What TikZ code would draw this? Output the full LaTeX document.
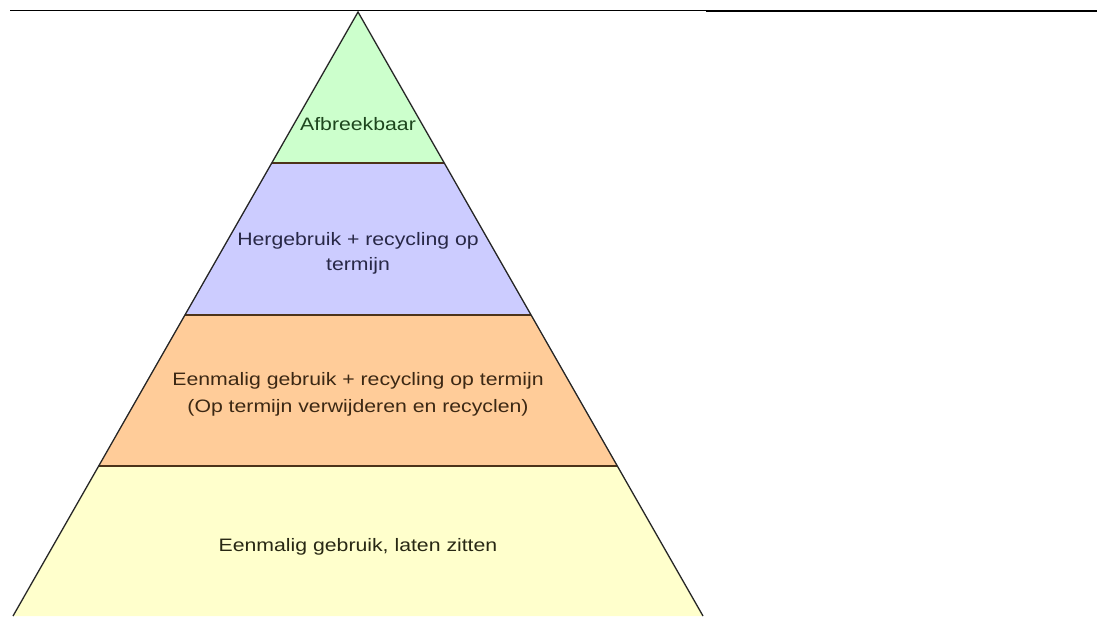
\documentclass[tikz,border=0pt]{standalone}
\usepackage{fontspec}
\setmainfont{Liberation Sans}[FakeStretch=1.18]
\definecolor{lgreen}{RGB}{204,255,204}
\definecolor{llav}{RGB}{204,204,255}
\definecolor{lorange}{RGB}{255,204,153}
\definecolor{lyellow}{RGB}{255,255,204}
\definecolor{tgreen}{RGB}{30,70,30}
\definecolor{tlav}{RGB}{40,40,70}
\definecolor{torange}{RGB}{60,40,20}
\definecolor{tyellow}{RGB}{40,40,20}
\tikzset{
  layer/.style={draw=none},
  divider/.style={draw=black!60!brown, line width=1.6pt},
  edge/.style={draw=black!85, line width=1.3pt, line join=miter},
  lbl/.style={anchor=base, inner sep=0pt, font=\fontsize{18}{26}\selectfont}
}
\begin{document}
\begin{tikzpicture}[x=1pt,y=-1pt]
\useasboundingbox[fill=white] (0,0) rectangle (1097,616);
% rules at top
\draw[black, line width=1pt] (10,10.5) -- (706,10.5);
\draw[black, line width=2.3pt] (706,10.8) -- (1097,10.8);
% layers
\fill[lgreen] (358,12) -- (444.25,163) -- (271.75,163) -- cycle;
\fill[llav] (271.75,163) -- (444.25,163) -- (531.1,315) -- (184.9,315) -- cycle;
\fill[lorange] (184.9,315) -- (531.1,315) -- (617.3,466) -- (98.7,466) -- cycle;
\fill[lyellow] (98.7,466) -- (617.3,466) -- (703,616) -- (13,616) -- cycle;
% dividers
\draw[divider] (271.75,163) -- (444.25,163);
\draw[divider] (184.9,315) -- (531.1,315);
\draw[divider] (98.7,466) -- (617.3,466);
% outline
\coordinate (apex) at (358,12);
\coordinate (bl) at (13,616);
\coordinate (br) at (703,616);
\draw[edge] (bl) -- (apex) -- (br);
% labels
\node[lbl, text=tgreen] (t1) at (358,130) {Afbreekbaar};
\node[lbl, text=tlav] (t2a) at (358,245) {Hergebruik + recycling op};
\node[lbl, text=tlav] (t2b) at (358,270) {termijn};
\node[lbl, text=torange] (t3a) at (358,385) {Eenmalig gebruik + recycling op termijn};
\node[lbl, text=torange] (t3b) at (358,412) {(Op termijn verwijderen en recyclen)};
\node[lbl, text=tyellow] (t4) at (358,551) {Eenmalig gebruik, laten zitten};
\end{tikzpicture}
\end{document}
